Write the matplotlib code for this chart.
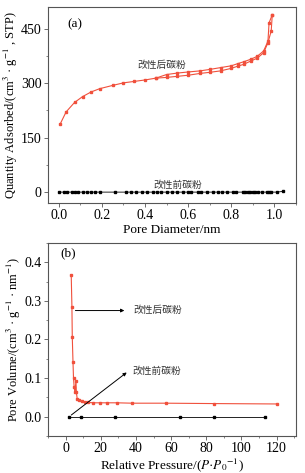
import numpy as np
import matplotlib.pyplot as plt
from matplotlib.ticker import MultipleLocator

plt.rcParams['font.family'] = ['Liberation Serif', 'Noto Sans CJK SC']
plt.rcParams['mathtext.fontset'] = 'stix'

# (a) isotherm, modified carbon powder: adsorption / desorption branches
ads_x = [0.006, 0.034, 0.073, 0.11, 0.15, 0.19, 0.25, 0.30, 0.35, 0.40, 0.45,
         0.50, 0.55, 0.60, 0.655, 0.70, 0.75, 0.80, 0.83, 0.857, 0.89, 0.92,
         0.95, 0.97, 0.985, 0.99]
ads_y = [187, 221, 247, 263, 276, 285, 294, 301, 305, 309, 314,
         316, 319, 322, 327, 330, 334, 341, 347, 352, 361, 369,
         384, 412, 444, 489]
des_x = [0.45, 0.50, 0.55, 0.60, 0.655, 0.70, 0.75, 0.80, 0.83, 0.857, 0.89,
         0.92, 0.95, 0.97, 0.975, 0.99]
des_y = [314, 324, 328, 331, 334, 338, 343, 348, 354, 359, 366,
         374, 389, 416, 466, 489]

# (a) isotherm, raw carbon powder
raw_x = [0.002, 0.025, 0.04, 0.06, 0.075, 0.09, 0.11, 0.13, 0.15, 0.17, 0.19,
         0.26, 0.31, 0.335, 0.36, 0.385, 0.41, 0.435, 0.455, 0.475, 0.50,
         0.525, 0.55, 0.575, 0.60, 0.613, 0.645, 0.66, 0.686, 0.717, 0.74,
         0.756, 0.78, 0.81, 0.82, 0.854, 0.865, 0.876, 0.888, 0.899, 0.911,
         0.922, 0.942, 0.965, 0.973, 0.984, 1.012, 1.04]
raw_y = [0.0] * (len(raw_x) - 1) + [2.0]

# (b) pore size distribution
psd_x = [3.2, 3.6, 3.8, 4.2, 4.5, 4.9, 5.3, 5.9, 6.1, 6.6, 7.8, 9.1, 11, 12.9,
         15.7, 19.5, 23.3, 29, 37.9, 57, 84.4, 120]
psd_y = [0.367, 0.285, 0.207, 0.143, 0.100, 0.076, 0.063, 0.093, 0.065, 0.046,
         0.042, 0.040, 0.038, 0.037, 0.036, 0.036, 0.036, 0.036, 0.035, 0.035,
         0.034, 0.033]
psd_raw_x = [1.9, 8.7, 28, 65, 84.4, 113.6]
psd_raw_y = [0, 0, 0, 0, 0, 0]

red = '#f0503c'
fig = plt.figure(figsize=(3.05, 4.73), dpi=100)
ax1 = fig.add_axes([48/305, 1 - 203/473, 248/305, 196/473])
ax2 = fig.add_axes([48/305, 1 - 436/473, 248/305, 193/473])

ax1.plot(ads_x, ads_y, '-s', color=red, lw=0.8, ms=1.6)
ax1.plot(des_x, des_y, '-s', color=red, lw=0.8, ms=1.6)
ax1.plot(raw_x, raw_y, '-s', color='black', lw=0.6, ms=1.6)
ax1.set_xlim(-0.05, 1.1)
ax1.set_ylim(-30, 510)
ax1.xaxis.set_major_locator(MultipleLocator(0.2))
ax1.xaxis.set_minor_locator(MultipleLocator(0.1))
ax1.yaxis.set_major_locator(MultipleLocator(150))
ax1.yaxis.set_minor_locator(MultipleLocator(75))
ax1.set_xlabel('Pore Diameter/nm', fontsize=9.5, labelpad=1)
ax1.set_ylabel('Quantity Adsorbed/(cm$^3$ · g$^{-1}$ , STP)', fontsize=9, labelpad=1)
ax1.text(0.04, 455, '(a)', fontsize=9.5)
ax1.text(0.48, 342, '改性后碳粉', fontsize=7, ha='center', color='#333333')
ax1.text(0.55, 12, '改性前碳粉', fontsize=7, ha='center', color='#333333')

ax2.plot(psd_x, psd_y, '-s', color=red, lw=0.8, ms=1.6)
ax2.plot(psd_raw_x, psd_raw_y, '-s', color='black', lw=0.6, ms=1.6)
ax2.set_xlim(-10, 131)
ax2.set_ylim(-0.05, 0.45)
ax2.xaxis.set_major_locator(MultipleLocator(20))
ax2.xaxis.set_minor_locator(MultipleLocator(10))
ax2.yaxis.set_major_locator(MultipleLocator(0.1))
ax2.yaxis.set_minor_locator(MultipleLocator(0.05))
ax2.set_xlabel('Relative Pressure/($P$·$P_0$$^{-1}$)', fontsize=9.5, labelpad=1)
ax2.set_ylabel('Pore Volume/(cm$^3$ · g$^{-1}$ · nm$^{-1}$)', fontsize=9, labelpad=1)
ax2.text(-3, 0.415, '(b)', fontsize=9.5)
ax2.annotate('', xy=(35, 0.275), xytext=(4, 0.275),
             arrowprops=dict(arrowstyle='-|>', color='black', lw=0.7, mutation_scale=5))
ax2.text(38.5, 0.275, '改性后碳粉', fontsize=7, va='center', color='#333333')
ax2.annotate('', xy=(36, 0.119), xytext=(2, 0.0),
             arrowprops=dict(arrowstyle='-|>', color='black', lw=0.7, mutation_scale=5))
ax2.text(38, 0.117, '改性前碳粉', fontsize=7, va='center', color='#333333')

for ax in (ax1, ax2):
    for s in ax.spines.values():
        s.set_color('#555555')
        s.set_linewidth(0.8)
    ax.tick_params(which='major', direction='out', length=3, width=0.6,
                   labelsize=10, pad=1.5, color='#555555')
    ax.tick_params(which='minor', direction='out', length=1.5, width=0.5, color='#555555')

fig.savefig('out.png', dpi=100)
